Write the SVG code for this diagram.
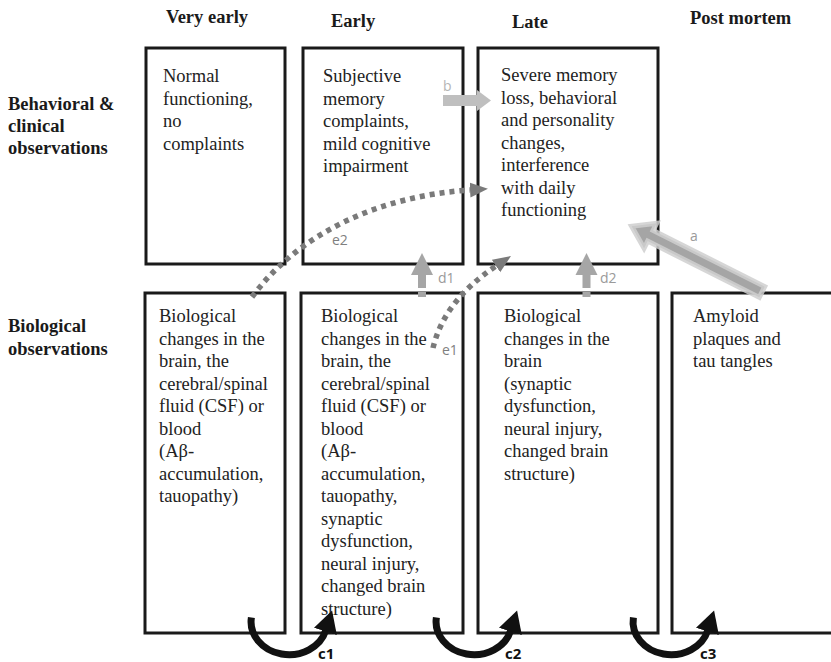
<svg xmlns="http://www.w3.org/2000/svg" width="831" height="662" viewBox="0 0 831 662">
<style>
.box{fill:#fff;stroke:#1a1a1a;stroke-width:3}
.t{font-family:"Liberation Serif","Times New Roman",serif;font-size:18.5px;fill:#222}
.h{font-family:"Liberation Serif","Times New Roman",serif;font-size:18.5px;font-weight:bold;fill:#1a1a1a}
.lab{font-family:"Open Sans","Liberation Sans",sans-serif;font-size:14px}
.cl{font-family:"Open Sans","Liberation Sans",sans-serif;font-size:15px;font-weight:bold;fill:#111}
.dot{fill:none;stroke:#7a7a7a;stroke-width:5.5;stroke-dasharray:5 5}
.curl{fill:none;stroke:#111;stroke-width:7}
</style>
<defs>
<marker id="eh" markerUnits="userSpaceOnUse" markerWidth="20" markerHeight="16" refX="0" refY="7.5" orient="auto">
<path d="M0,0 L18,7.5 L0,15 z" fill="#7a7a7a"/>
</marker>
<marker id="ch" markerUnits="userSpaceOnUse" markerWidth="24" markerHeight="26" refX="1" refY="12" orient="auto">
<path d="M0,0 L22,12 L0,24 z" fill="#111"/>
</marker>
</defs>

<g id="headers">
<text class="h" x="166" y="23">Very early</text>
<text class="h" x="331" y="27">Early</text>
<text class="h" x="512" y="28">Late</text>
<text class="h" x="690" y="24">Post mortem</text>
</g>
<g id="row-labels">
<text class="h" x="8" y="110">Behavioral &amp;</text>
<text class="h" x="8" y="132">clinical</text>
<text class="h" x="8" y="154">observations</text>
<text class="h" x="8" y="332">Biological</text>
<text class="h" x="8" y="355">observations</text>
</g>

<g id="n-very-early-beh">
<rect class="box" x="146" y="48" width="139" height="216"/>
<text class="t" x="163" y="82">Normal</text>
<text class="t" x="163" y="104.5">functioning,</text>
<text class="t" x="163" y="127">no</text>
<text class="t" x="163" y="149.5">complaints</text>
</g>
<g id="n-early-beh">
<rect class="box" x="303" y="48" width="160" height="216"/>
<text class="t" x="323" y="82">Subjective</text>
<text class="t" x="323" y="104.5">memory</text>
<text class="t" x="323" y="127">complaints,</text>
<text class="t" x="323" y="149.5">mild cognitive</text>
<text class="t" x="323" y="172">impairment</text>
</g>
<g id="n-late-beh">
<rect class="box" x="478" y="48" width="180" height="216"/>
<text class="t" x="501" y="81">Severe memory</text>
<text class="t" x="501" y="103.5">loss, behavioral</text>
<text class="t" x="501" y="126">and personality</text>
<text class="t" x="501" y="148.5">changes,</text>
<text class="t" x="501" y="171">interference</text>
<text class="t" x="501" y="193.5">with daily</text>
<text class="t" x="501" y="216">functioning</text>
</g>

<g id="n-very-early-bio">
<rect class="box" x="145" y="293" width="140" height="340"/>
<text class="t" x="159" y="322">Biological</text>
<text class="t" x="159" y="344.5">changes in the</text>
<text class="t" x="159" y="367">brain, the</text>
<text class="t" x="159" y="389.5">cerebral/spinal</text>
<text class="t" x="159" y="412">fluid (CSF) or</text>
<text class="t" x="159" y="434.5">blood</text>
<text class="t" x="159" y="457">(Aβ-</text>
<text class="t" x="159" y="479.5">accumulation,</text>
<text class="t" x="159" y="502">tauopathy)</text>
</g>
<g id="n-early-bio">
<rect class="box" x="301" y="293" width="162" height="340"/>
<text class="t" x="321" y="322">Biological</text>
<text class="t" x="321" y="344.5">changes in the</text>
<text class="t" x="321" y="367">brain, the</text>
<text class="t" x="321" y="389.5">cerebral/spinal</text>
<text class="t" x="321" y="412">fluid (CSF) or</text>
<text class="t" x="321" y="434.5">blood</text>
<text class="t" x="321" y="457">(Aβ-</text>
<text class="t" x="321" y="479.5">accumulation,</text>
<text class="t" x="321" y="502">tauopathy,</text>
<text class="t" x="321" y="524.5">synaptic</text>
<text class="t" x="321" y="547">dysfunction,</text>
<text class="t" x="321" y="569.5">neural injury,</text>
<text class="t" x="321" y="592">changed brain</text>
<text class="t" x="321" y="614.5">structure)</text>
</g>
<g id="n-late-bio">
<rect class="box" x="478" y="293" width="180" height="340"/>
<text class="t" x="504" y="322">Biological</text>
<text class="t" x="504" y="344.5">changes in the</text>
<text class="t" x="504" y="367">brain</text>
<text class="t" x="504" y="389.5">(synaptic</text>
<text class="t" x="504" y="412">dysfunction,</text>
<text class="t" x="504" y="434.5">neural injury,</text>
<text class="t" x="504" y="457">changed brain</text>
<text class="t" x="504" y="479.5">structure)</text>
</g>
<g id="n-post-mortem">
<rect class="box" x="672" y="293" width="162" height="340"/>
<text class="t" x="693" y="322">Amyloid</text>
<text class="t" x="693" y="344.5">plaques and</text>
<text class="t" x="693" y="367">tau tangles</text>
</g>

<g id="connectors">
<!-- b -->
<rect x="443" y="95" width="35" height="11" fill="#bfbfbf"/>
<polygon points="477,90 491,100.5 477,111" fill="#bfbfbf"/>
<text class="lab" x="443" y="91" fill="#b5b5b5">b</text>
<!-- a -->
<g transform="translate(762,292) rotate(206.74)">
<polygon points="0,-6 125,-6 125,-14 146,0 125,14 125,6 0,6" fill="#a5a5a5" stroke="#cfcfcf" stroke-width="5" stroke-opacity="0.85"/>
</g>
<text class="lab" x="690" y="241" fill="#9a9a9a">a</text>
<!-- d1 -->
<rect x="418" y="275" width="8" height="13" fill="#a6a6a6"/>
<rect x="418" y="292" width="8" height="5" fill="#a6a6a6"/>
<polygon points="411,275 433,275 422,253" fill="#a6a6a6"/>
<text class="lab" x="438" y="283" fill="#9a9a9a">d1</text>
<!-- d2 -->
<rect x="582.5" y="275" width="8" height="13" fill="#a6a6a6"/>
<rect x="582.5" y="292" width="8" height="5" fill="#a6a6a6"/>
<polygon points="575.5,275 597.5,275 586.5,253" fill="#a6a6a6"/>
<text class="lab" x="600" y="283" fill="#9a9a9a">d2</text>
<!-- e2 -->
<path class="dot" d="M252,297 C300,232 380,196 470,190" marker-end="url(#eh)"/>
<text class="lab" x="332" y="245" fill="#7f7f7f">e2</text>
<!-- e1 -->
<path class="dot" d="M433,348 C440,318 460,290 496,266" marker-end="url(#eh)"/>
<text class="lab" x="442" y="355" fill="#7f7f7f">e1</text>
<!-- c1..c3 -->
<path class="curl" d="M251.4,617.4 A38,33 0 0 0 325.7,630.5" marker-end="url(#ch)"/>
<path class="curl" d="M436.4,617.4 A38,33 0 0 0 510.7,630.5" marker-end="url(#ch)"/>
<path class="curl" d="M633.4,617.4 A38,33 0 0 0 707.7,630.5" marker-end="url(#ch)"/>
<text class="cl" x="318" y="659">c1</text>
<text class="cl" x="505" y="659">c2</text>
<text class="cl" x="700" y="659">c3</text>
</g>
</svg>
